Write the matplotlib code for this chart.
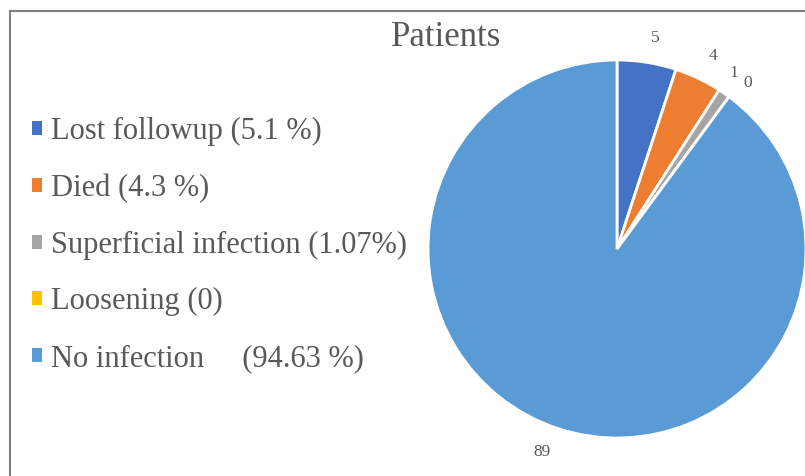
import matplotlib
matplotlib.use("Agg")
import matplotlib.pyplot as plt
from matplotlib.lines import Line2D

# Data
categories = ["Lost followup", "Died", "Superficial infection", "Loosening", "No infection"]
patients = [5, 4, 1, 0, 89]
legend_labels = ["Lost followup (5.1 %)", "Died (4.3 %)", "Superficial infection (1.07%)",
                 "Loosening (0)", "No infection     (94.63 %)"]
colors = ["#4472C4", "#ED7D31", "#A5A5A5", "#FFC000", "#5B9BD5"]

text_color = "#595959"
plt.rcParams['font.family'] = ['Liberation Serif', 'DejaVu Serif']

fig = plt.figure(figsize=(8.05, 4.76), dpi=100)

# pie axes
ax = fig.add_axes([428 / 805, 38 / 476, 378 / 805, 378 / 476])
wedges, texts = ax.pie(patients, labels=[str(v) for v in patients], colors=colors,
                       startangle=90, counterclock=False, labeldistance=1.13,
                       wedgeprops=dict(edgecolor="white", linewidth=2),
                       textprops=dict(color=text_color, fontsize=12.5))
ax.set_xlim(-1, 1)
ax.set_ylim(-1, 1)
ax.set_aspect("equal")

# the two tiny slices share almost the same spot; nudge them apart a little
texts[2].set_ha("right")
texts[3].set_ha("left")
texts[3].set_y(texts[3].get_position()[1] - 0.03)

fig.text(446 / 805, 1 - 37 / 476, "Patients", ha="center", va="center",
         fontsize=25, color=text_color)

leg = fig.legend(wedges, legend_labels, loc="upper left",
                 bbox_to_anchor=(17 / 805, 1 - 102 / 476), frameon=False,
                 fontsize=22, labelcolor=text_color, borderpad=0,
                 handlelength=0.32, handleheight=0.32, handletextpad=0.3,
                 labelspacing=0.9)
for h in leg.legend_handles:
    h.set_edgecolor("none")

# chart area border (only top and left visible)
fig.add_artist(Line2D([9.5 / 805, 1], [1 - 11 / 476, 1 - 11 / 476],
                      color="#7f7f7f", linewidth=1.5, transform=fig.transFigure))
fig.add_artist(Line2D([9.5 / 805, 9.5 / 805], [0, 1 - 11 / 476],
                      color="#7f7f7f", linewidth=1.5, transform=fig.transFigure))

fig.savefig("out.png", dpi=100)
